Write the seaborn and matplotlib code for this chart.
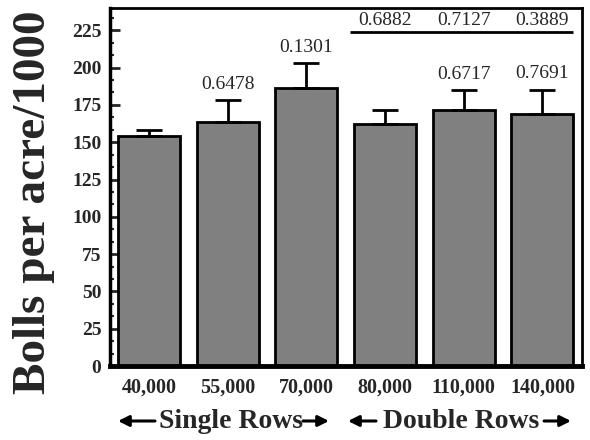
import matplotlib
matplotlib.use("Agg")
import matplotlib.pyplot as plt
from matplotlib.ticker import MultipleLocator
from matplotlib.patches import FancyArrowPatch
import seaborn as sns
import pandas as pd

# --- data ---
densities = ['40,000', '55,000', '70,000', '80,000', '110,000', '140,000']
bolls = [154, 163.6, 186.4, 162.3, 171.7, 169.0]
err_up = [4.0, 14.5, 16.5, 9.5, 13.2, 16.2]
p_bar = [None, '0.6478', '0.1301', None, '0.6717', '0.7691']
p_top = ['0.6882', '0.7127', '0.3889']

sns.set_theme(style="white")
plt.rcParams['font.family'] = ['Liberation Serif', 'DejaVu Serif']

fig = plt.figure(figsize=(5.9, 4.4), dpi=100)
ax = fig.add_axes([0.186, 0.168, 0.800, 0.814])

df = pd.DataFrame({'density': densities, 'bolls': bolls})
sns.barplot(data=df, x='density', y='bolls', color='#808080', saturation=1,
            edgecolor='black', linewidth=2, width=0.79, ax=ax)

# upper-only error bars
ax.errorbar(range(len(bolls)), bolls, yerr=[[0] * len(bolls), err_up],
            fmt='none', ecolor='black', elinewidth=2, capsize=9.5,
            capthick=2, zorder=1)

# p-values above bars
for i, (b, e, p) in enumerate(zip(bolls, err_up, p_bar)):
    if p:
        ax.text(i, b + e + 5, p, ha='center', va='bottom', fontsize=14)

# comparison line over double rows
ax.hlines(224, 2.56, 5.39, color='black', linewidth=2)
for i, p in zip(range(3, 6), p_top):
    ax.text(i, 226, p, ha='center', va='bottom', fontsize=14)

ax.set_xlim(-0.5, 5.5)
ax.set_ylim(0, 240)
ax.yaxis.set_major_locator(MultipleLocator(25))
ax.yaxis.set_minor_locator(MultipleLocator(25 / 3))
ax.tick_params(axis='y', which='major', direction='in', length=7, width=2,
               labelsize=14, left=True, pad=6)
ax.tick_params(axis='y', which='minor', direction='in', length=3, width=1.5,
               left=True)
ax.tick_params(axis='x', length=0, labelsize=14.5, pad=8)
for lab in ax.get_xticklabels() + ax.get_yticklabels():
    lab.set_fontweight('bold')

for side, lw in [('left', 2.5), ('bottom', 3.5), ('top', 2), ('right', 2)]:
    ax.spines[side].set_linewidth(lw)
    ax.spines[side].set_color('black')

ax.set_xlabel('')
ax.set_ylabel('Bolls per acre/1000', fontsize=34, fontweight='bold')
ax.yaxis.set_label_coords(-0.115, 0.458)

# group captions with heavy arrows
fig.text(231 / 590, 1 - 428 / 440, 'Single Rows', ha='center', va='baseline',
         fontsize=20, fontweight='bold')
fig.text(461 / 590, 1 - 428 / 440, 'Double Rows', ha='center', va='baseline',
         fontsize=20, fontweight='bold')
ya = 1 - 421 / 440
for x0, x1 in [(155, 118), (303, 329), (376, 348), (544, 571)]:
    fig.add_artist(FancyArrowPatch((x0 / 590, ya), (x1 / 590, ya),
                                   transform=fig.transFigure,
                                   arrowstyle='-|>', mutation_scale=16,
                                   lw=2.2, color='black',
                                   shrinkA=0, shrinkB=0))

fig.savefig('out.png', dpi=100)
